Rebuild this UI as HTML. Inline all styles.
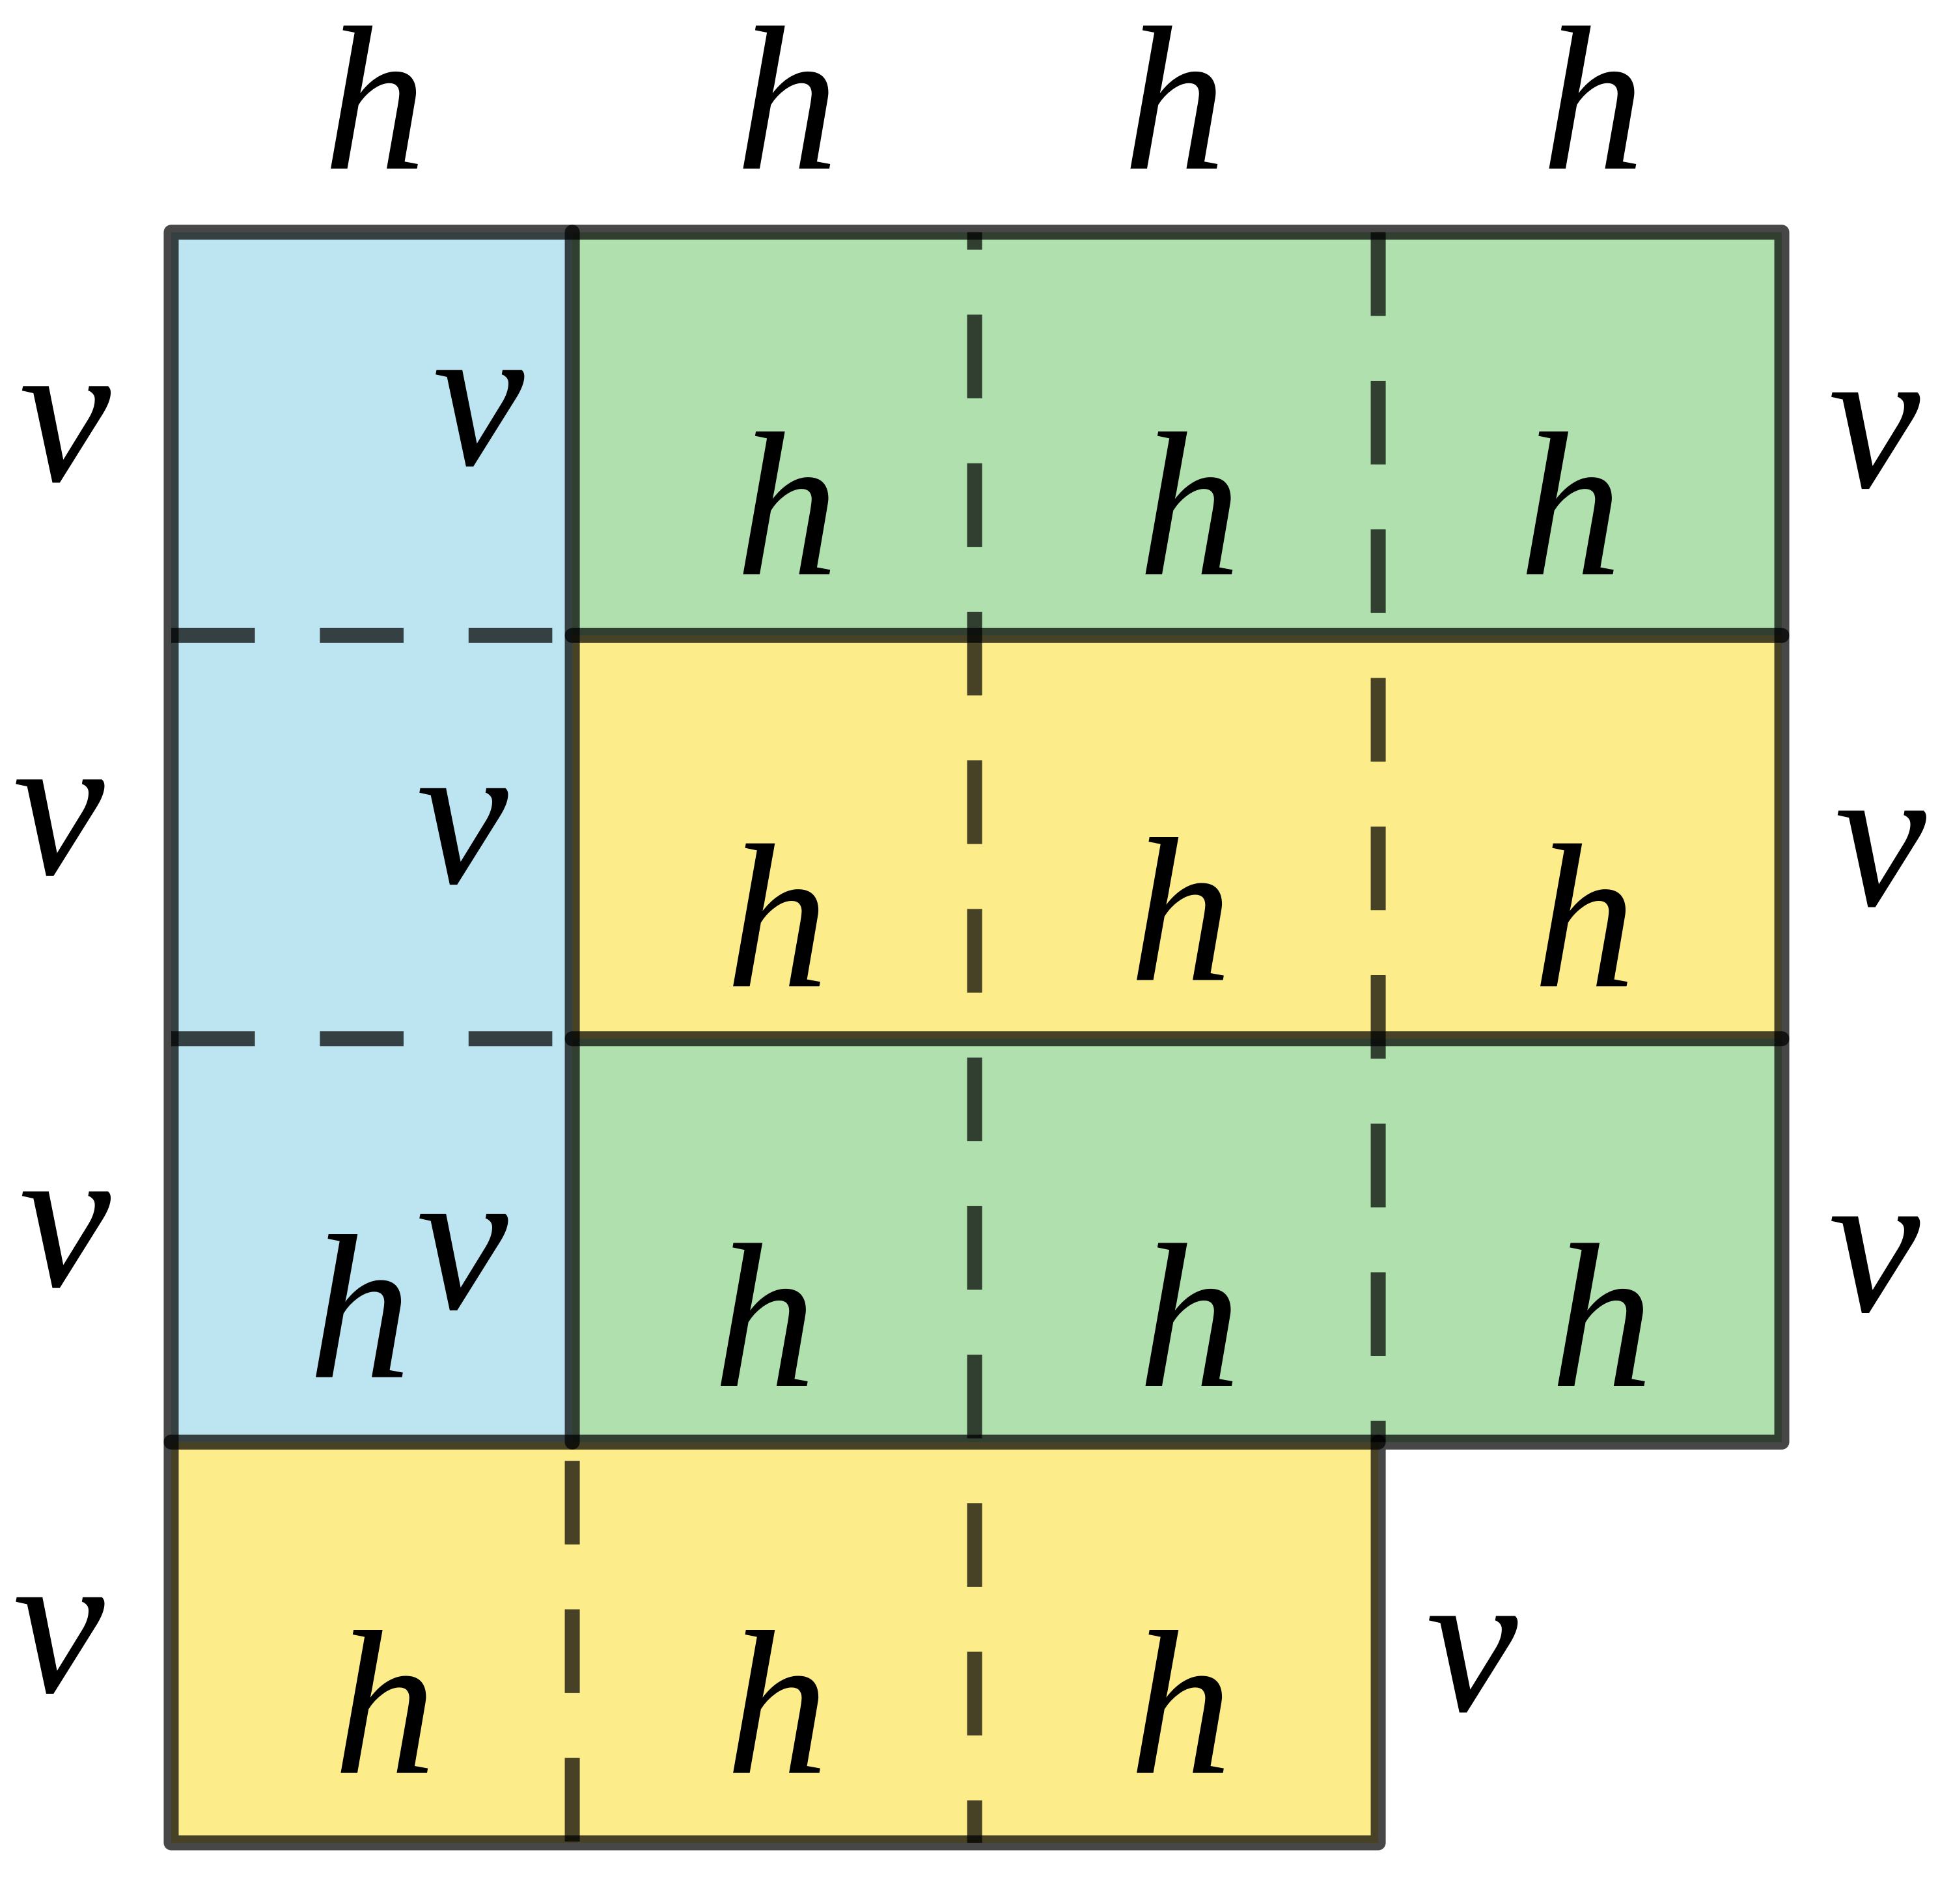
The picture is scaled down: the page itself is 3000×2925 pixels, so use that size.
<!DOCTYPE html>
<html><head><meta charset="utf-8"><style>
html,body{margin:0;padding:0;background:#fff;}
svg{display:block;}
text{font-family:"Liberation Serif",serif;font-style:italic;font-size:165px;fill:#000;text-anchor:middle;}
</style></head><body>
<svg width="3000" height="2925" viewBox="0 0 1563 1525" preserveAspectRatio="none" xmlns="http://www.w3.org/2000/svg">
<g>
<rect x="137" y="186" width="321" height="969" fill="#bde5f1"/>
<rect x="458" y="186" width="968" height="323" fill="#afe0ae"/>
<rect x="458" y="509" width="968" height="323" fill="#fdec8a"/>
<rect x="458" y="832" width="968" height="323" fill="#afe0ae"/>
<rect x="137" y="1155" width="966" height="321" fill="#fdec8a"/>
</g>
<g stroke="rgba(0,0,0,0.72)" stroke-width="12" stroke-dasharray="67 52">
<line x1="780" y1="186" x2="780" y2="1476" stroke-dashoffset="53"/>
<line x1="1103" y1="186" x2="1103" y2="1155"/>
<line x1="458" y1="1170" x2="458" y2="1476"/>
<line x1="137" y1="509" x2="458" y2="509"/>
<line x1="137" y1="832" x2="458" y2="832"/>
</g>
<g stroke="rgba(0,0,0,0.72)" stroke-width="12" stroke-linecap="round" stroke-linejoin="round" fill="none">
<polyline points="137,1476 137,186 1426,186 1426,1155 1103,1155 1103,1476 137,1476"/>
<line x1="458" y1="186" x2="458" y2="1155"/>
<line x1="458" y1="509" x2="1426" y2="509"/>
<line x1="458" y1="832" x2="1426" y2="832"/>
<line x1="137" y1="1155" x2="1103" y2="1155"/>
</g>
<g>
<text x="300" y="135">h</text><text x="630" y="135">h</text><text x="940" y="135">h</text><text x="1275" y="135">h</text>
<text x="52" y="385">v</text><text x="47" y="700">v</text><text x="52" y="1030">v</text><text x="47" y="1355">v</text>
<text x="1500" y="390">v</text><text x="1505" y="725">v</text><text x="1500" y="1050">v</text><text x="1178" y="1370">v</text>
<text x="383" y="372">v</text><text x="370" y="707">v</text><text x="370" y="1048">v</text><text x="288" y="1103">h</text>
<text x="630" y="460">h</text><text x="952" y="460">h</text><text x="1257" y="460">h</text>
<text x="622" y="790">h</text><text x="945" y="785">h</text><text x="1268" y="790">h</text>
<text x="612" y="1110">h</text><text x="952" y="1110">h</text><text x="1282" y="1110">h</text>
<text x="308" y="1420">h</text><text x="622" y="1420">h</text><text x="945" y="1420">h</text>
</g>
</svg>
</body></html>
